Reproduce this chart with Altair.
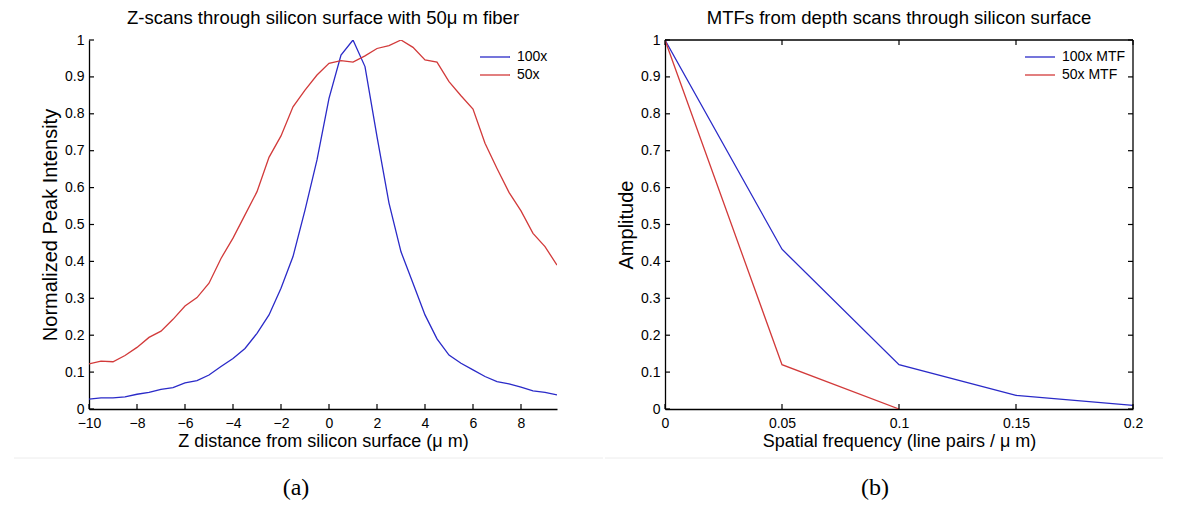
import altair as alt
import pandas as pd

# ---------------- data ----------------
z_um = [-10, -9.5, -9, -8.5, -8, -7.5, -7, -6.5, -6, -5.5, -5, -4.5, -4, -3.5, -3, -2.5,
        -2, -1.5, -1, -0.5, 0, 0.5, 1, 1.5, 2, 2.5, 3, 3.5, 4, 4.5, 5, 5.5, 6, 6.5, 7,
        7.5, 8, 8.5, 9, 9.5]
int_100x = [0.027, 0.030, 0.030, 0.033, 0.040, 0.045, 0.053, 0.058, 0.071, 0.077,
            0.092, 0.115, 0.137, 0.164, 0.205, 0.255, 0.327, 0.413, 0.539, 0.675,
            0.842, 0.959, 1.000, 0.928, 0.738, 0.558, 0.426, 0.341, 0.255, 0.190,
            0.146, 0.124, 0.106, 0.088, 0.074, 0.068, 0.059, 0.049, 0.045, 0.038]
int_50x = [0.122, 0.130, 0.128, 0.145, 0.167, 0.194, 0.211, 0.243, 0.279, 0.302,
           0.341, 0.408, 0.463, 0.526, 0.589, 0.682, 0.740, 0.819, 0.864, 0.905,
           0.937, 0.944, 0.940, 0.957, 0.977, 0.985, 1.000, 0.980, 0.946, 0.940,
           0.887, 0.849, 0.813, 0.720, 0.652, 0.587, 0.537, 0.476, 0.440, 0.390]

freq_100x = [0, 0.05, 0.1, 0.15, 0.2]
mtf_100x = [1.0, 0.433, 0.120, 0.037, 0.010]
freq_50x = [0, 0.05, 0.1]
mtf_50x = [1.0, 0.120, 0.0]

left_xticks = [-10, -8, -6, -4, -2, 0, 2, 4, 6, 8]
right_xticks = [0, 0.05, 0.1, 0.15, 0.2]
yticks = [0, 0.1, 0.2, 0.3, 0.4, 0.5, 0.6, 0.7, 0.8, 0.9, 1]

series_a = ["100x", "50x"]
series_b = ["100x MTF", "50x MTF"]
captions = ["(a)", "(b)"]

# ---------------- style ----------------
W, H = 468, 369
BLUE, RED = "#2a2ac8", "#d23a3a"
FONT = "Liberation Sans"
TICK = 5

df_a = pd.DataFrame({"x": z_um * 2, "v": int_100x + int_50x,
                     "s": [series_a[0]] * len(z_um) + [series_a[1]] * len(z_um)})
df_b = pd.DataFrame({"x": freq_100x + freq_50x, "v": mtf_100x + mtf_50x,
                     "s": [series_b[0]] * len(freq_100x) + [series_b[1]] * len(freq_50x)})


def axis(title, values, tsize, tpad, lpad):
    return alt.Axis(values=values, title=title, ticks=False, grid=False, format="~r",
                    domainColor="black", domainWidth=1.3, labelColor="black",
                    titleColor="black", labelFont=FONT, titleFont=FONT,
                    labelFontSize=14, titleFontSize=tsize, titleFontWeight="normal",
                    labelPadding=lpad, titlePadding=tpad, labelFlush=False)


def panel(df, series, dom_x, xticks, xtitle, ytitle, title, caption, boxed, cap_x,
          line_x, line_x2, leg_x):
    x = alt.X("x:Q", scale=alt.Scale(domain=dom_x, nice=False, zero=False),
              axis=axis(xtitle, xticks, 18, 2, 7))
    y = alt.Y("v:Q", scale=alt.Scale(domain=[0, 1], nice=False),
              axis=axis(ytitle, yticks, 20, 4, 5))
    lines = alt.Chart(df).mark_line(strokeWidth=1.3, clip=True).encode(
        x=x, y=y,
        color=alt.Color("s:N", scale=alt.Scale(domain=series, range=[BLUE, RED]),
                        legend=alt.Legend(title=None, orient="none", legendX=leg_x,
                                          legendY=10, padding=0,
                                          symbolType="M-3,0H3", symbolSize=100,
                                          symbolStrokeWidth=1.3, labelFont=FONT,
                                          labelFontSize=14, labelColor="black",
                                          rowPadding=4, labelOffset=15)),
    )
    xt = pd.DataFrame({"x": xticks})
    yt = pd.DataFrame({"v": yticks})
    one = pd.DataFrame({"t": [caption]})
    layers = [lines,
              alt.Chart(xt).mark_rule(color="black", strokeWidth=1.2).encode(
                  x=x, y=alt.value(H), y2=alt.value(H - TICK)),
              alt.Chart(yt).mark_rule(color="black", strokeWidth=1.2).encode(
                  y=y, x=alt.value(0), x2=alt.value(TICK))]
    if boxed:
        layers += [alt.Chart(xt).mark_rule(color="black", strokeWidth=1.2).encode(
                       x=x, y=alt.value(0), y2=alt.value(TICK)),
                   alt.Chart(yt).mark_rule(color="black", strokeWidth=1.2).encode(
                       y=y, x=alt.value(W), x2=alt.value(W - TICK)),
                   alt.Chart(one).mark_rule(color="black", strokeWidth=1.3).encode(
                       x=alt.value(0), x2=alt.value(W), y=alt.value(0)),
                   alt.Chart(one).mark_rule(color="black", strokeWidth=1.3).encode(
                       x=alt.value(W), y=alt.value(0), y2=alt.value(H))]
    layers += [alt.Chart(one).mark_text(font="Liberation Serif", fontSize=24,
                                        color="black").encode(
                   text="t:N", x=alt.value(cap_x), y=alt.value(448)),
               alt.Chart(one).mark_rule(color="#ececec").encode(
                   x=alt.value(line_x), x2=alt.value(line_x2), y=alt.value(418))]
    return alt.layer(*layers).properties(
        width=W, height=H,
        title=alt.TitleParams(title, font=FONT, fontSize=18.5, fontWeight="normal",
                              color="black", offset=6))


left = panel(df_a, series_a, [-10, 9.5], left_xticks,
             "Z distance from silicon surface (μ m)", "Normalized Peak Intensity",
             "Z-scans through silicon surface with 50μ m fiber", captions[0], False, 207,
             -75, W + 46, 399)
right = panel(df_b, series_b, [0, 0.2], right_xticks,
              "Spatial frequency (line pairs / μ m)", "Amplitude",
              "MTFs from depth scans through silicon surface", captions[1], True, 210,
              -60, W + 30, 368)

chart = alt.hconcat(left, right, spacing=0).resolve_scale(
    color="independent").configure_view(stroke=None).properties(
    padding={"left": 5, "top": 0, "right": 0, "bottom": 0})

chart.save("out.html", embed_options={"renderer": "svg", "actions": False})
